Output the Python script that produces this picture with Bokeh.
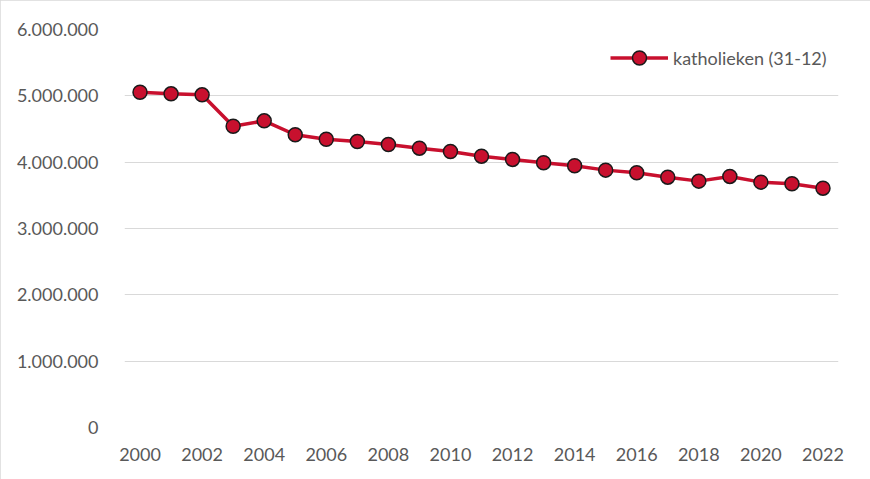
from bokeh.plotting import figure
from bokeh.models import Range1d, FixedTicker, Legend, LegendItem, CustomJSTickFormatter
from bokeh.embed import file_html
from bokeh.resources import INLINE

years = list(range(2000, 2023))
katholieken = [5054000, 5030000, 5015000, 4542000, 4623000, 4413000, 4346000, 4312000,
               4267000, 4211000, 4161000, 4090000, 4041000, 3991000, 3946000, 3880000,
               3840000, 3774000, 3714000, 3785000, 3699000, 3675000, 3608000]
x_ticks = list(range(2000, 2023, 2))
y_ticks = [0, 1000000, 2000000, 3000000, 4000000, 5000000, 6000000]
series_name = "katholieken (31-12)"

FONT = "Lato"
GREY = "#595959"
RED = "#C8102E"

p = figure(width=870, height=479, output_backend="svg", toolbar_location=None,
           x_range=Range1d(1999.5, 2022.5), y_range=Range1d(0, 6000000),
           min_border_left=124, min_border_right=32, min_border_top=29, min_border_bottom=52)
p.styles = {"outline": "1px solid #d9d9d9", "outline-offset": "-1px"}
p.outline_line_color = None
p.background_fill_color = "white"
p.border_fill_color = "white"

p.xgrid.grid_line_color = None
p.ygrid.grid_line_color = "#d9d9d9"
p.ygrid.grid_line_width = 1

p.xaxis.ticker = FixedTicker(ticks=x_ticks)
p.yaxis.ticker = FixedTicker(ticks=y_ticks)
p.yaxis.formatter = CustomJSTickFormatter(code="""
    return Math.round(tick).toString().replace(/\\B(?=(\\d{3})+(?!\\d))/g, '.');
""")
for ax in (p.xaxis[0], p.yaxis[0]):
    ax.axis_line_color = None
    ax.major_tick_line_color = None
    ax.minor_tick_line_color = None
    ax.major_label_text_font = FONT
    ax.major_label_text_font_size = "18px"
    ax.major_label_text_color = GREY
p.yaxis.major_label_standoff = 20
p.xaxis.major_label_standoff = 14

line = p.line(years, katholieken, line_color=RED, line_width=3.5)
pts = p.scatter(years, katholieken, size=14, fill_color=RED, line_color="#1a1a1a", line_width=1.5)

legend = Legend(items=[LegendItem(label=series_name, renderers=[line, pts])],
                location=(486, 352), padding=0, margin=0, spacing=0,
                glyph_width=58, glyph_height=35, label_height=35, label_standoff=5,
                label_text_font=FONT, label_text_font_size="18px", label_text_color=GREY,
                border_line_color=None, background_fill_alpha=0)
p.add_layout(legend)

open("out.html", "w").write(file_html(p, INLINE))
